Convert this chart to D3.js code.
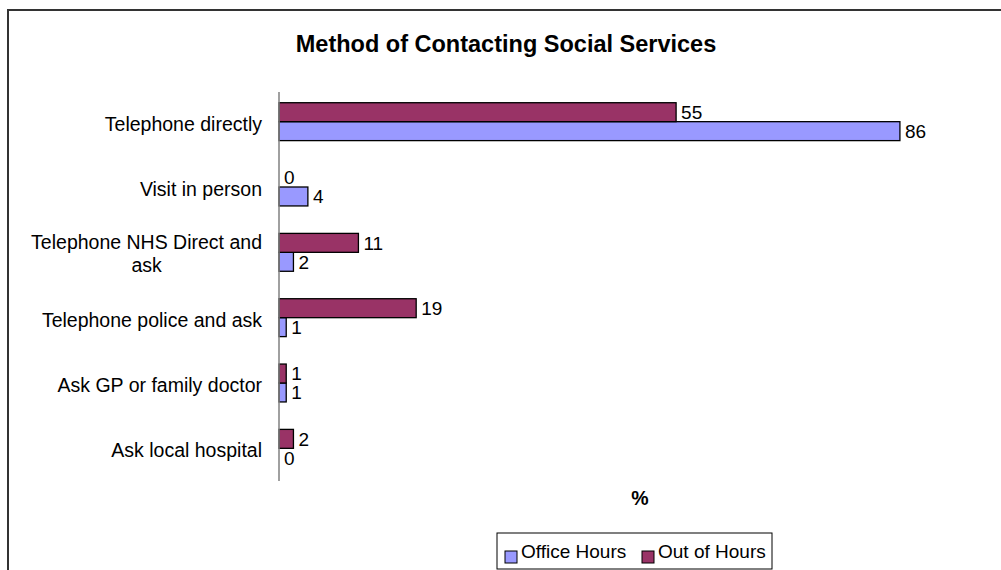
<!DOCTYPE html>
<html>
<head>
<meta charset="utf-8">
<script src="https://cdn.jsdelivr.net/npm/d3@7"></script>
<style>
  body { margin: 0; background: #fff; }
  svg { display: block; font-family: "Liberation Sans", Arial, sans-serif; }
</style>
</head>
<body>
<svg id="chart"></svg>
<script>
// data
var categories = ['Telephone directly', 'Visit in person', 'Telephone NHS Direct and ask',
                  'Telephone police and ask', 'Ask GP or family doctor', 'Ask local hospital'];
var officeHours = [86, 4, 2, 1, 1, 0];
var outOfHours = [55, 0, 11, 19, 1, 2];
var seriesNames = ['Office Hours', 'Out of Hours'];
var seriesColors = ['#9999FF', '#993366'];

var width = 1001;
var height = 570;

var svg = d3.select('#chart')
  .attr('width', width)
  .attr('height', height);

// chart area frame (runs off the right and bottom of the picture)
svg.append('rect')
  .attr('x', 8)
  .attr('y', 10)
  .attr('width', 1100)
  .attr('height', 700)
  .attr('fill', 'none')
  .attr('stroke', '#333')
  .attr('stroke-width', 2);

svg.append('text')
  .attr('x', 506)
  .attr('y', 52)
  .attr('text-anchor', 'middle')
  .style('font-weight', 'bold')
  .style('font-size', '23.5px')
  .text('Method of Contacting Social Services');

var x = d3.scaleLinear()
  .domain([0, 100])
  .range([279, 1001]);

var y = d3.scaleBand()
  .domain(categories)
  .range([89, 481])
  .paddingInner(0.42)
  .paddingOuter(0.21);

// out of hours sits above office hours within a group
var ySub = d3.scaleBand()
  .domain(['Out of Hours', 'Office Hours'])
  .range([0, y.bandwidth()]);

var rows = categories.map(function(c, i) {
  return [
    {cat: c, series: 'Office Hours', value: officeHours[i], color: seriesColors[0]},
    {cat: c, series: 'Out of Hours', value: outOfHours[i], color: seriesColors[1]}
  ];
});
var bars = d3.merge(rows);

svg.selectAll('.bar')
  .data(bars.filter(d => d.value > 0))
  .enter()
  .append('rect')
    .classed('bar', true)
    .attr('x', x(0))
    .attr('y', d => y(d.cat) + ySub(d.series))
    .attr('width', d => x(d.value) - x(0))
    .attr('height', ySub.bandwidth())
    .attr('fill', d => d.color)
    .attr('stroke', 'black')
    .attr('stroke-width', 1.3);

svg.selectAll('.val')
  .data(bars)
  .enter()
  .append('text')
    .classed('val', true)
    .attr('x', d => x(d.value) + 5)
    .attr('y', d => y(d.cat) + ySub(d.series) + ySub.bandwidth() / 2)
    .attr('dy', '0.36em')
    .style('font-size', '19px')
    .text(d => d.value);

// value axis line
svg.append('line')
  .attr('x1', x(0))
  .attr('x2', x(0))
  .attr('y1', 92)
  .attr('y2', 481)
  .attr('stroke', '#808080')
  .attr('stroke-width', 1.5);

// category labels, wrapped like the original
var labelRight = 262;
var maxLine = 240;
categories.forEach(function(c) {
  var t = svg.append('text')
    .style('font-size', '19.5px')
    .attr('text-anchor', 'middle');
  var words = c.split(' ');
  var lines = [];
  var line = [];
  var probe = t.append('tspan');
  words.forEach(function(w) {
    line.push(w);
    probe.text(line.join(' '));
    if (probe.node().getComputedTextLength() > maxLine && line.length > 1) {
      line.pop();
      lines.push(line.join(' '));
      line = [w];
    }
  });
  lines.push(line.join(' '));
  probe.remove();

  var widest = 0;
  lines.forEach(function(l) {
    var s = t.append('tspan').text(l);
    widest = Math.max(widest, s.node().getComputedTextLength());
    s.remove();
  });
  var cx = labelRight - widest / 2;
  var cy = y(c) + y.bandwidth() / 2 + 2;
  var lh = 23;
  lines.forEach(function(l, i) {
    t.append('tspan')
      .attr('x', cx)
      .attr('y', cy + (i - (lines.length - 1) / 2) * lh - (lines.length - 1))
      .attr('dy', '0.36em')
      .text(l);
  });
});

svg.append('text')
  .attr('x', (x.range()[0] + x.range()[1]) / 2)
  .attr('y', 505)
  .attr('text-anchor', 'middle')
  .style('font-weight', 'bold')
  .style('font-size', '19.5px')
  .text('%');

// legend
var legend = svg.append('g');
legend.append('rect')
  .attr('x', 497)
  .attr('y', 533)
  .attr('width', 275)
  .attr('height', 36)
  .attr('fill', 'white')
  .attr('stroke', 'black')
  .attr('stroke-width', 1);

var legendX = [505, 642];
seriesNames.forEach(function(name, i) {
  legend.append('rect')
    .attr('x', legendX[i])
    .attr('y', 551)
    .attr('width', 12)
    .attr('height', 12)
    .attr('fill', seriesColors[i])
    .attr('stroke', 'black');
  legend.append('text')
    .attr('x', legendX[i] + 16)
    .attr('y', 558)
    .style('font-size', '19px')
    .text(name);
});
</script>
</body>
</html>
